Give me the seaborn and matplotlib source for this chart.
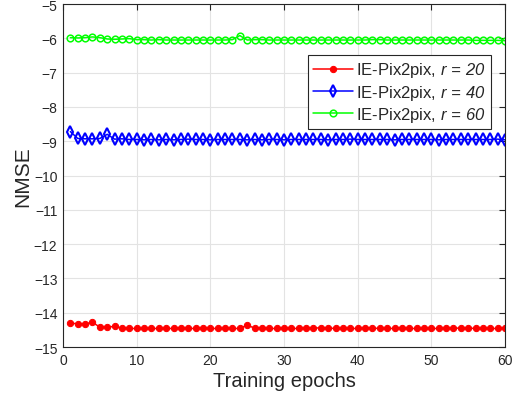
import numpy as np
import pandas as pd
import matplotlib
matplotlib.use('Agg')
import matplotlib.pyplot as plt
import seaborn as sns

epochs = list(range(1, 61))

nmse_r20 = [-14.31, -14.32, -14.33, -14.28, -14.42, -14.42, -14.40, -14.45, -14.46, -14.46,
            -14.46, -14.46, -14.46, -14.46, -14.46, -14.44, -14.46, -14.46, -14.45, -14.46,
            -14.46, -14.46, -14.46, -14.46, -14.36, -14.45, -14.45, -14.46, -14.46, -14.45,
            -14.46, -14.46, -14.45, -14.45, -14.44, -14.45, -14.46, -14.46, -14.46, -14.46,
            -14.45, -14.45, -14.46, -14.46, -14.46, -14.45, -14.46, -14.46, -14.46, -14.46,
            -14.46, -14.46, -14.45, -14.45, -14.45, -14.46, -14.46, -14.46, -14.46, -14.45]

nmse_r40 = [-8.72, -8.92, -8.93, -8.93, -8.92, -8.80, -8.94, -8.93, -8.95, -8.95,
            -8.96, -8.95, -8.96, -8.95, -8.96, -8.95, -8.94, -8.95, -8.95, -8.96,
            -8.95, -8.95, -8.95, -8.95, -8.96, -8.95, -8.96, -8.95, -8.95, -8.96,
            -8.95, -8.95, -8.95, -8.95, -8.95, -8.96, -8.95, -8.95, -8.94, -8.95,
            -8.95, -8.95, -8.95, -8.95, -8.96, -8.95, -8.95, -8.95, -8.95, -8.95,
            -8.96, -8.95, -8.95, -8.95, -8.95, -8.95, -8.95, -8.95, -8.94, -8.96]

nmse_r60 = [-5.98, -5.99, -5.98, -5.96, -5.98, -6.02, -6.03, -6.02, -6.01, -6.04,
            -6.04, -6.05, -6.04, -6.05, -6.05, -6.05, -6.05, -6.05, -6.05, -6.05,
            -6.05, -6.05, -6.04, -5.92, -6.05, -6.04, -6.04, -6.05, -6.05, -6.05,
            -6.05, -6.05, -6.05, -6.05, -6.05, -6.05, -6.05, -6.05, -6.05, -6.05,
            -6.05, -6.04, -6.04, -6.05, -6.05, -6.05, -6.05, -6.05, -6.05, -6.05,
            -6.05, -6.05, -6.05, -6.05, -6.05, -6.06, -6.06, -6.06, -6.06, -6.07]

labels = [r'IE-Pix2pix, $r\,=\,20$',
          r'IE-Pix2pix, $r\,=\,40$',
          r'IE-Pix2pix, $r\,=\,60$']

sns.set_style('whitegrid')
plt.rcParams['font.family'] = ['Liberation Sans', 'DejaVu Sans']
plt.rcParams['mathtext.fontset'] = 'custom'
# the math part of the labels is fully italic in the original
plt.rcParams['mathtext.it'] = 'Liberation Sans:italic'
plt.rcParams['mathtext.rm'] = 'Liberation Sans:italic'

fig = plt.figure(figsize=(5.13, 4.02), dpi=100)
ax = fig.add_axes([63 / 513, 1 - 348 / 402, (505 - 63) / 513, (348 - 5) / 402])

sns.lineplot(x=epochs, y=nmse_r20, ax=ax, color='red', lw=1.1, marker='o',
             markersize=4.5, markeredgecolor='red', markerfacecolor='red', label=labels[0])
sns.lineplot(x=epochs, y=nmse_r40, ax=ax, color='blue', lw=1.1, marker='d',
             markersize=5.8, markeredgecolor='blue', markerfacecolor='none',
             markeredgewidth=1.5, label=labels[1])
sns.lineplot(x=epochs, y=nmse_r60, ax=ax, color='#00ff00', lw=1.1, marker='o',
             markersize=4.8, markeredgecolor='#00ff00', markerfacecolor='none',
             markeredgewidth=1.1, label=labels[2])

ax.set_xlim(0, 60)
ax.set_ylim(-15, -5)
ax.set_xticks(range(0, 61, 10))
ax.set_yticks(range(-15, -4))
ax.grid(True, color='#e3e3e3', lw=0.8)
for s in ax.spines.values():
    s.set_color('#262626')
    s.set_linewidth(0.8)
ax.tick_params(direction='in', length=4, width=0.8, color='#262626',
               labelsize=10, labelcolor='#262626', top=True, right=True, pad=4)
ax.set_xlabel('Training epochs', fontsize=14.5, color='#262626', labelpad=3)
ax.set_ylabel('NMSE', fontsize=15, color='#262626', labelpad=1)

leg = ax.legend(loc='upper right', bbox_to_anchor=(0.968, 0.85), fontsize=12,
                frameon=True, fancybox=False, edgecolor='#262626', framealpha=1,
                handlelength=2.4, borderpad=0.3, labelspacing=0.2, handletextpad=0.2,
                borderaxespad=0)
leg.get_frame().set_linewidth(0.8)

fig.savefig('out.png', dpi=100)
